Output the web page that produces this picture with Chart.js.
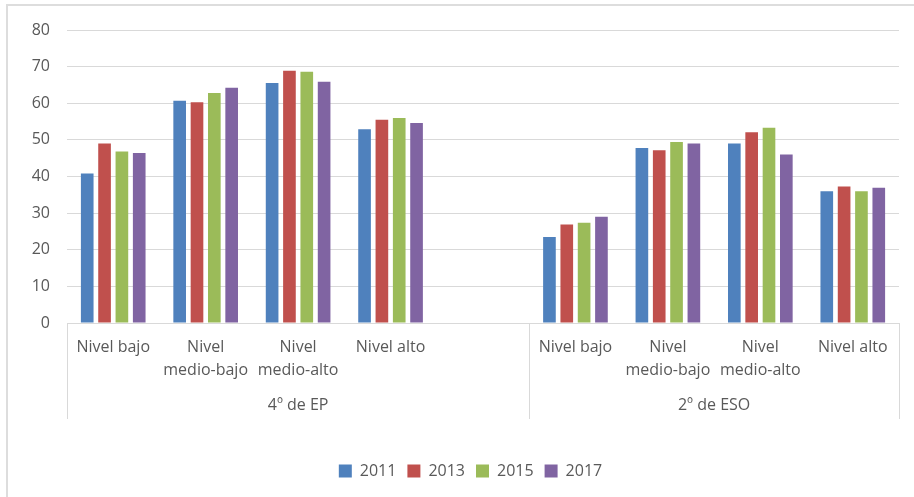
<!DOCTYPE html>
<html>
<head>
<meta charset="utf-8">
<script src="https://cdn.jsdelivr.net/npm/chart.js@4"></script>
<style>
  html, body { margin: 0; padding: 0; background: #fff; }
  #wrap { width: 914px; height: 497px; position: relative; }
</style>
</head>
<body>
<div id="wrap"><canvas id="barChart"></canvas></div>
<script>
// categories (index 4 is the empty gap that still belongs to "4º de EP")
const levels = [['Nivel bajo'], ['Nivel', 'medio-bajo'], ['Nivel', 'medio-alto'], ['Nivel alto'], [''],
                ['Nivel bajo'], ['Nivel', 'medio-bajo'], ['Nivel', 'medio-alto'], ['Nivel alto']];
const groups = ['4º de EP', '2º de ESO'];
const groupSizes = [5, 4];
const years = ['2011', '2013', '2015', '2017'];

// series values
const v2011 = [40.8, 60.7, 65.5, 52.9, null, 23.5, 47.8, 49.0, 36.0];
const v2013 = [49.0, 60.3, 68.9, 55.5, null, 26.9, 47.2, 52.1, 37.3];
const v2015 = [46.8, 62.8, 68.6, 56.0, null, 27.4, 49.4, 53.3, 36.0];
const v2017 = [46.4, 64.2, 65.9, 54.6, null, 29.0, 49.0, 46.0, 36.9];

// y ticks
const yMin = 0, yMax = 80, yStep = 10;

const colors = ['#4F81BD', '#C0504D', '#9BBB59', '#8064A2'];
const series = [v2011, v2013, v2015, v2017];
const FONT = "'Open Sans', 'Liberation Sans', sans-serif";
const TEXT = '#595959';
const LINE = '#D9D9D9';

document.addEventListener('DOMContentLoaded', function () {
    const canvas = document.getElementById('barChart');
    const ctx = canvas.getContext('2d');

    new Chart(ctx, {
        type: 'bar',
        data: {
            labels: levels,
            datasets: years.map((y, i) => ({
                label: y,
                data: series[i],
                backgroundColor: colors[i],
                borderWidth: 0,
                categoryPercentage: 0.75,
                barPercentage: 0.73
            }))
        },
        options: {
            responsive: true,
            maintainAspectRatio: false,
            animation: false,
            layout: {
                padding: { top: 30, right: 15, bottom: 8, left: 0 }
            },
            scales: {
                x: {
                    grid: { display: false, drawTicks: false },
                    border: { display: true, color: LINE, width: 1 },
                    ticks: {
                        color: TEXT,
                        font: { family: FONT, size: 16, lineHeight: 1.45 },
                        padding: 13,
                        maxRotation: 0,
                        autoSkip: false
                    },
                    afterFit: function (scale) { scale.height = 129; }
                },
                y: {
                    min: yMin,
                    max: yMax,
                    ticks: {
                        stepSize: yStep,
                        color: TEXT,
                        font: { family: FONT, size: 16 },
                        padding: 17
                    },
                    grid: { color: LINE, lineWidth: 1, drawTicks: false },
                    border: { display: false },
                    afterFit: function (scale) { scale.width = 67; }
                }
            },
            plugins: {
                legend: {
                    position: 'bottom',
                    labels: {
                        color: TEXT,
                        font: { family: FONT, size: 16 },
                        boxWidth: 13,
                        boxHeight: 13,
                        padding: 11
                    }
                },
                tooltip: { enabled: false }
            }
        },
        plugins: [{
            id: 'frameAndGroups',
            afterLayout: (chart) => {
                // Excel puts the legend a bit right of the canvas centre
                chart.legend.left += 21;
                chart.legend.right += 21;
            },
            beforeDraw: (chart) => {
                const c = chart.ctx;
                c.save();
                c.strokeStyle = '#DDDDDD';
                c.lineWidth = 2;
                c.beginPath();
                c.moveTo(914, 5);
                c.lineTo(7, 5);
                c.lineTo(7, 497);
                c.stroke();
                c.restore();
            },
            afterDraw: (chart) => {
                const c = chart.ctx;
                const x = chart.scales.x;
                const bottom = chart.chartArea.bottom;
                const half = (x.getPixelForTick(1) - x.getPixelForTick(0)) / 2;

                // boundaries between groups
                const edges = [x.left];
                let idx = 0;
                groupSizes.forEach(n => {
                    idx += n;
                    edges.push(x.getPixelForTick(idx - 1) + half);
                });

                c.save();
                c.strokeStyle = LINE;
                c.lineWidth = 1;
                edges.forEach(px => {
                    const xx = Math.round(px) + 0.5;
                    c.beginPath();
                    c.moveTo(xx, bottom);
                    c.lineTo(xx, bottom + 96);
                    c.stroke();
                });

                c.fillStyle = TEXT;
                c.font = '16px ' + FONT;
                c.textAlign = 'center';
                c.textBaseline = 'middle';
                groups.forEach((g, i) => {
                    c.fillText(g, (edges[i] + edges[i + 1]) / 2, bottom + 82);
                });
                c.restore();
            }
        }]
    });
});
</script>
</body>
</html>
